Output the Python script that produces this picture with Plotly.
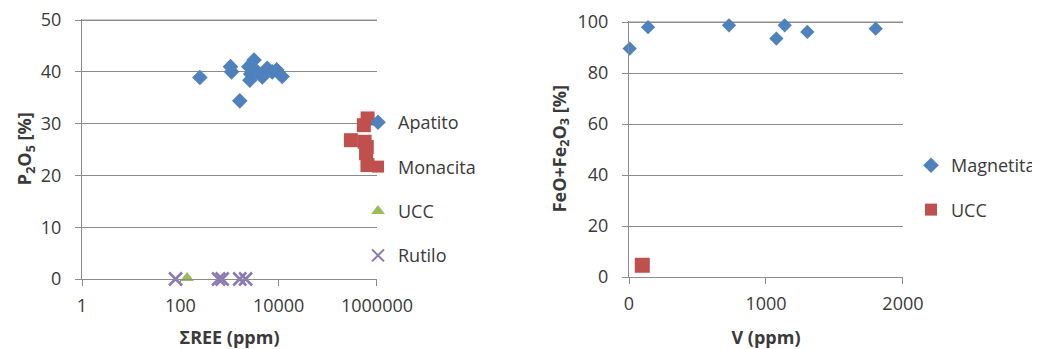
import plotly.graph_objects as go

# ---- Left panel data: ΣREE (ppm) vs P2O5 (%)
apatito_ree = [250, 1050, 1100, 1620, 3160, 2470, 2600, 2700, 3650, 4650, 5850, 7400, 9100, 11800]
apatito_p2o5 = [38.9, 41.0, 40.0, 34.4, 42.3, 41.0, 38.4, 39.6, 40.0, 39.0, 40.7, 40.0, 40.4, 39.1]

monacita_ree = [645000, 540000, 295000, 560000, 600000, 640000, 1400000, 620000]
monacita_p2o5 = [31.0, 29.7, 26.8, 26.5, 24.3, 22.0, 22.0, 25.5]

ucc_ree = [137]
ucc_p2o5 = [0.2]

rutilo_ree = [80, 600, 710, 1620, 2130]
rutilo_p2o5 = [0, 0, 0, 0, 0]

# ---- Right panel data: V (ppm) vs FeO+Fe2O3 (%)
magnetita_v = [5, 139, 730, 1076, 1137, 1302, 1801]
magnetita_fe = [89.6, 98.0, 98.7, 93.5, 98.7, 96.1, 97.4]

ucc2_v = [97]
ucc2_fe = [4.6]

left_xticks = [1, 100, 10000, 1000000]
left_xticklabels = ["1", "100", "10000", "1000000"]
left_yticks = [0, 10, 20, 30, 40, 50]
right_xticks = [0, 1000, 2000]
right_yticks = [0, 20, 40, 60, 80, 100]

BLUE = "#4F81BD"
RED = "#C0504D"
GREEN = "#9BBB59"
PURPLE = "#8C78B8"
TXT = "#3a3a3a"
GRID = "#8c8c8c"
FONT = "Open Sans"

fig = go.Figure()

fig.add_trace(go.Scatter(x=apatito_ree, y=apatito_p2o5, mode="markers", name="Apatito",
                         marker=dict(symbol="diamond", size=12, color=BLUE),
                         xaxis="x", yaxis="y", legend="legend", legendgroup="a", cliponaxis=False))
fig.add_trace(go.Scatter(x=monacita_ree, y=monacita_p2o5, mode="markers", name="Monacita",
                         marker=dict(symbol="square", size=14, color=RED),
                         xaxis="x", yaxis="y", legend="legend", legendgroup="b", cliponaxis=False))
fig.add_trace(go.Scatter(x=ucc_ree, y=ucc_p2o5, mode="markers", name="UCC",
                         marker=dict(symbol="triangle-up", size=12, color=GREEN),
                         xaxis="x", yaxis="y", legend="legend", legendgroup="c", cliponaxis=False))
fig.add_trace(go.Scatter(x=rutilo_ree, y=rutilo_p2o5, mode="markers", name="Rutilo",
                         marker=dict(symbol="x-thin", size=13, color=PURPLE,
                                     line=dict(color=PURPLE, width=2.5)),
                         xaxis="x", yaxis="y", legend="legend", legendgroup="d", cliponaxis=False))

fig.add_trace(go.Scatter(x=magnetita_v, y=magnetita_fe, mode="markers", name="Magnetita",
                         marker=dict(symbol="diamond", size=11, color=BLUE),
                         xaxis="x2", yaxis="y2", legend="legend2", legendgroup="e", cliponaxis=False))
fig.add_trace(go.Scatter(x=ucc2_v, y=ucc2_fe, mode="markers", name="UCC",
                         marker=dict(symbol="square", size=15, color=RED),
                         xaxis="x2", yaxis="y2", legend="legend2", legendgroup="f", cliponaxis=False))

OFF = 8  # page body margin
W, H = 1040 - OFF, 349 - OFF

def px_x(a, b):
    return [(a - OFF) / W, (b - OFF) / W]

def px_y(top, bottom):
    return [(H - (bottom - OFF)) / H, (H - (top - OFF)) / H]

def lx(a):
    return (a - OFF) / W

def ly(t):
    return (H - (t - OFF)) / H

axis_common = dict(showline=True, linecolor=GRID, linewidth=1, ticks="outside", ticklen=6,
                   tickcolor=GRID, tickfont=dict(family=FONT, size=18, color=TXT),
                   zeroline=False, automargin=False, ticklabeloverflow="allow")

TITLE_FONT = dict(family=FONT, size=18, color=TXT)

fig.update_layout(
    width=W, height=H,
    margin=dict(l=0, r=0, t=0, b=0, autoexpand=False),
    paper_bgcolor="white", plot_bgcolor="white",
    font=dict(family=FONT, color=TXT),
    xaxis=dict(domain=px_x(82, 377), type="log", range=[0, 6.0005], anchor="y",
               tickmode="array", tickvals=left_xticks, ticktext=left_xticklabels, showgrid=False,
               ticklabelstandoff=4,
               title=dict(text="<b>ΣREE (ppm)</b>", font=TITLE_FONT, standoff=27),
               **axis_common),
    yaxis=dict(domain=px_y(18.5, 279), range=[0, 50.3], tickmode="array", tickvals=left_yticks,
               anchor="x", showgrid=True, gridcolor=GRID, gridwidth=1, ticklabelstandoff=10,
               title=dict(text="<b>P<sub>2</sub>O<sub>5</sub> [%]</b>", font=TITLE_FONT, standoff=4),
               **axis_common),
    xaxis2=dict(domain=px_x(629, 903), range=[0, 2000.5], tickmode="array", tickvals=right_xticks,
                anchor="y2", showgrid=False, ticklabelstandoff=4,
                title=dict(text="<b>V (ppm)</b>", font=TITLE_FONT, standoff=27),
                **axis_common),
    yaxis2=dict(domain=px_y(20.5, 277), range=[0, 100.6], tickmode="array", tickvals=right_yticks,
                anchor="x2", showgrid=True, gridcolor=GRID, gridwidth=1, ticklabelstandoff=10,
                title=dict(text="<b>FeO+Fe<sub>2</sub>O<sub>3</sub> [%]</b>", font=TITLE_FONT, standoff=6),
                **axis_common),
    legend=dict(x=lx(358), y=ly(104), xanchor="left", yanchor="top",
                bgcolor="rgba(0,0,0,0)", font=dict(family=FONT, size=18, color=TXT),
                tracegroupgap=18, itemsizing="constant"),
    legend2=dict(x=lx(911), y=ly(147), xanchor="left", yanchor="top",
                 bgcolor="rgba(0,0,0,0)", font=dict(family=FONT, size=18, color=TXT),
                 tracegroupgap=18, itemsizing="constant"),
)

# top gridlines (plotly drops gridlines at the very edge of the range)
fig.add_shape(type="line", xref="x domain", yref="y", x0=0, x1=1,
              y0=max(left_yticks), y1=max(left_yticks), line=dict(color=GRID, width=1), layer="below")
fig.add_shape(type="line", xref="x2 domain", yref="y2", x0=0, x1=1,
              y0=max(right_yticks), y1=max(right_yticks), line=dict(color=GRID, width=1), layer="below")

fig.write_html("out.html")
